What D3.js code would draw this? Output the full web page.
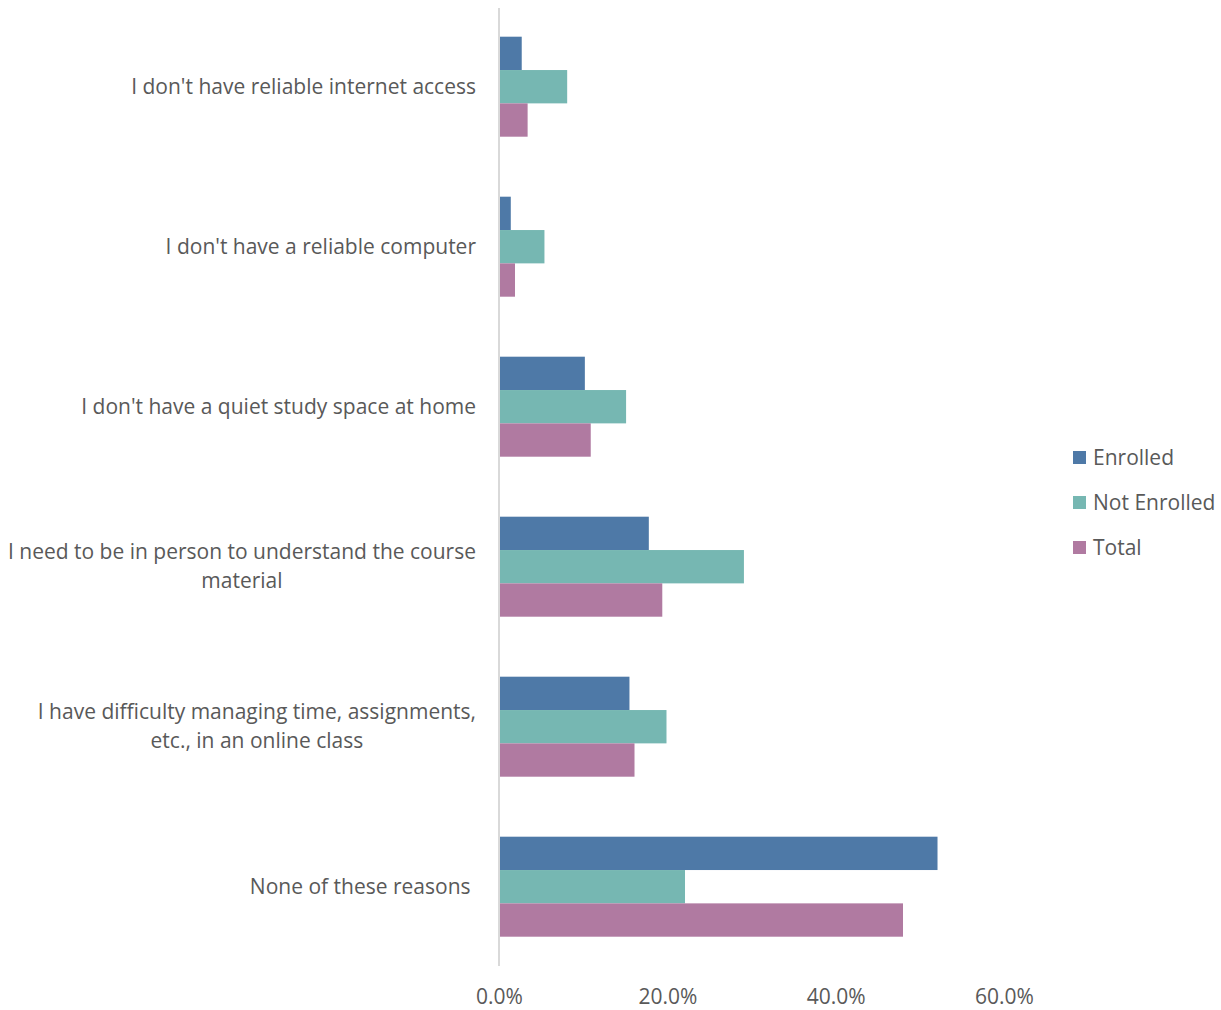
<!DOCTYPE html>
<html><head><meta charset="utf-8">
<script src="https://cdn.jsdelivr.net/npm/d3@7"></script>
<style>body{margin:0;background:#fff;} text{font-family:"Open Sans",sans-serif;fill:#595959;white-space:pre;}</style>
</head><body>
<svg id="c" width="1221" height="1010"></svg>
<script>
const categories = [
  ["I don't have reliable internet access"],
  ["I don't have a reliable computer"],
  ["I don't have a quiet study space at home"],
  ["I need to be in person to understand the course", "material"],
  ["I have difficulty managing time, assignments,", "etc., in an online class"],
  ["None of these reasons "]
];
const seriesNames = ["Enrolled", "Not Enrolled", "Total"];
const enrolled    = [2.7, 1.4, 10.2, 17.8, 15.5, 52.1];
const notEnrolled = [8.1, 5.4, 15.1, 29.1, 19.9, 22.1];
const total       = [3.4, 1.9, 10.9, 19.4, 16.1, 48.0];
const tickValues  = [0, 20, 40, 60];
const colors = ["#4E79A7", "#76B7B2", "#B07AA1"];
const FS = 21;

const seriesVals = [enrolled, notEnrolled, total];
const svg = d3.select("#c");
const x = d3.scaleLinear().domain([0, 60]).range([499, 1004]);
const y = d3.scaleBand().domain(d3.range(categories.length)).range([6.7, 966.7]).paddingInner(0.375).paddingOuter(0.1875);
const y1 = d3.scaleBand().domain(d3.range(3)).range([0, y.bandwidth()]);

const g = svg.append("g");
categories.forEach((c, i) => {
  g.selectAll(null).data(seriesVals.map((s, k) => ({k, v: s[i]}))).enter().append("rect")
    .attr("x", x(0) + 1)
    .attr("y", d => y(i) + y1(d.k))
    .attr("width", d => x(d.v) - x(0) - 1)
    .attr("height", y1.bandwidth())
    .attr("fill", d => colors[d.k]);
});

svg.append("line").attr("x1", x(0)).attr("x2", x(0)).attr("y1", 8).attr("y2", 966)
  .attr("stroke", "#d9d9d9").attr("stroke-width", 2);

const xAxis = d3.axisBottom(x).tickValues(tickValues).tickFormat(d => d.toFixed(1) + "%").tickSize(0);
const xa = svg.append("g").attr("transform", "translate(0,986)").call(xAxis);
xa.select(".domain").remove();
xa.selectAll("text").style("font-size", FS + "px").style("font-family", "'Open Sans', sans-serif").attr("fill", "#595959");

categories.forEach((lines, i) => {
  const cy = y(i) + y.bandwidth() / 2;
  const lh = 29;
  const t = svg.append("text").attr("font-size", FS).attr("text-anchor", "end").attr("xml:space", "preserve");
  const y0 = cy - (lines.length - 1) * lh / 2 + 7;
  lines.forEach((ln, j) => {
    t.append("tspan").attr("x", 476).attr("y", y0 + j * lh).text(ln);
  });
  if (lines.length > 1) {
    const ts = t.selectAll("tspan").nodes();
    const w = d3.max(ts, n => n.getComputedTextLength());
    ts.forEach(n => d3.select(n).attr("text-anchor", "middle").attr("x", 476 - w / 2));
  }
});

const leg = svg.append("g");
seriesNames.forEach((n, k) => {
  const ly = 458 + k * 45;
  leg.append("rect").attr("x", 1073).attr("y", ly - 7).attr("width", 13).attr("height", 13).attr("fill", colors[k]);
  leg.append("text").attr("x", 1093).attr("y", ly + 7).attr("font-size", FS).text(n);
});
</script>
</body></html>
